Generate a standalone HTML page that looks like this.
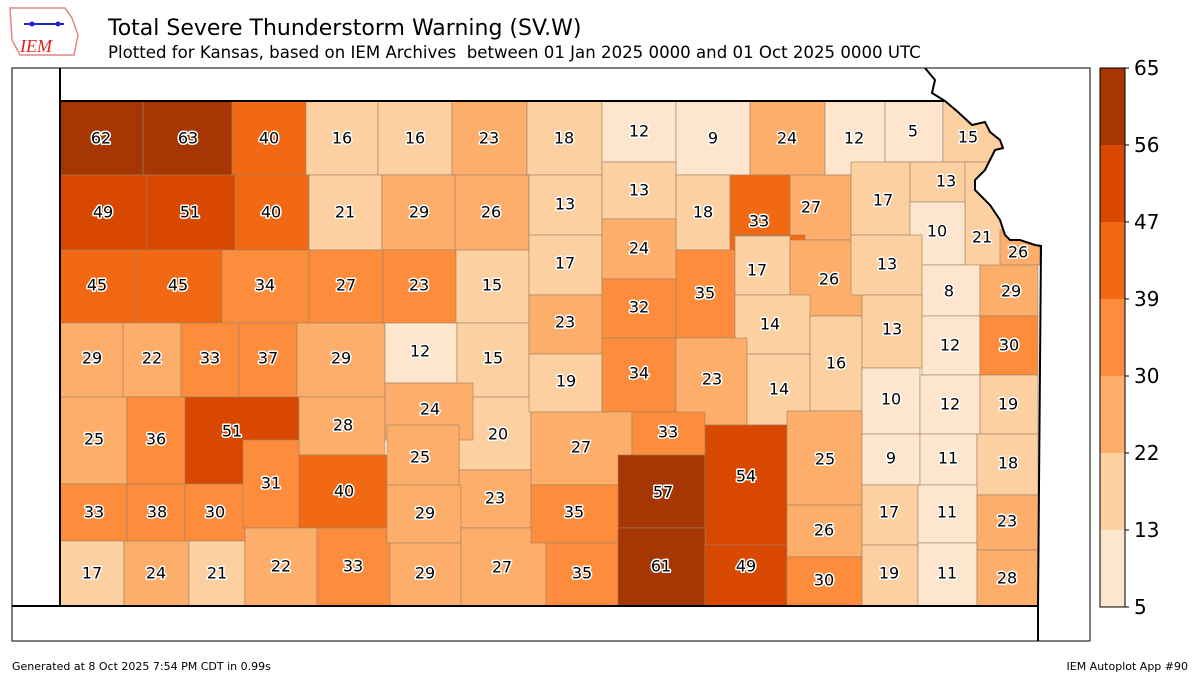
<!DOCTYPE html>
<html><head><meta charset="utf-8"><style>
body{margin:0;background:#fff;width:1200px;height:675px;overflow:hidden;font-family:"DejaVu Sans","Liberation Sans",sans-serif}
svg{font-family:"DejaVu Sans","Liberation Sans",sans-serif}
.a{fill:#fee6ce}.b{fill:#fdd0a2}.c{fill:#fdae6b}.d{fill:#fd8d3c}.e{fill:#f16913}.f{fill:#d94801}.g{fill:#a63603}
#r rect{stroke:#a08060;stroke-width:0.6}
#t text{font-size:16px;text-anchor:middle;dominant-baseline:central;fill:#000;stroke:#fff;stroke-width:3px;paint-order:stroke;stroke-linejoin:round}
</style></head><body>
<svg width="1200" height="675" xmlns="http://www.w3.org/2000/svg">
<rect x="12" y="68" width="1078" height="573" fill="#fff" stroke="#000" stroke-width="1"/>
<g id="r">
<rect class="g" x="60" y="101" width="83" height="74"/><rect class="g" x="143" y="101" width="89" height="74"/>
<rect class="e" x="232" y="101" width="74" height="74"/><rect class="b" x="306" y="101" width="72" height="74"/>
<rect class="b" x="378" y="101" width="74" height="74"/><rect class="c" x="452" y="101" width="75" height="74"/>
<rect class="b" x="527" y="101" width="75" height="74"/><rect class="a" x="602" y="101" width="74" height="61"/>
<rect class="a" x="676" y="101" width="74" height="74"/><rect class="c" x="750" y="101" width="75" height="74"/>
<rect class="a" x="825" y="101" width="60" height="74"/><rect class="a" x="885" y="101" width="58" height="61"/>
<rect class="b" x="943" y="101" width="62" height="61"/>
<rect class="f" x="60" y="175" width="87" height="75"/><rect class="f" x="147" y="175" width="88" height="75"/>
<rect class="e" x="235" y="175" width="74" height="75"/><rect class="b" x="309" y="175" width="73" height="75"/>
<rect class="c" x="382" y="175" width="73" height="75"/><rect class="c" x="455" y="175" width="74" height="75"/>
<rect class="b" x="529" y="175" width="73" height="60"/><rect class="b" x="602" y="162" width="74" height="57"/>
<rect class="b" x="676" y="175" width="54" height="75"/><rect class="c" x="790" y="175" width="61" height="65"/>
<rect class="e" x="730" y="175" width="60" height="60"/><rect class="e" x="730" y="235" width="75" height="30"/>
<rect class="b" x="851" y="162" width="59" height="73"/><rect class="b" x="910" y="162" width="65" height="40"/>
<rect class="b" x="965" y="162" width="40" height="113"/>
<rect class="a" x="910" y="202" width="55" height="63"/>
<rect class="c" x="1000" y="230" width="40" height="35"/>
<rect class="e" x="60" y="250" width="75" height="73"/><rect class="e" x="135" y="250" width="87" height="73"/>
<rect class="d" x="222" y="250" width="87" height="73"/><rect class="d" x="309" y="250" width="74" height="73"/>
<rect class="d" x="383" y="250" width="73" height="73"/><rect class="b" x="456" y="250" width="73" height="73"/>
<rect class="b" x="529" y="235" width="73" height="60"/><rect class="c" x="602" y="219" width="74" height="60"/>
<rect class="d" x="676" y="250" width="59" height="88"/><rect class="b" x="735" y="236" width="55" height="59"/>
<rect class="c" x="790" y="240" width="72" height="76"/><rect class="b" x="851" y="235" width="71" height="60"/>
<rect class="a" x="922" y="265" width="58" height="51"/><rect class="c" x="980" y="265" width="58" height="51"/>
<rect class="c" x="60" y="323" width="63" height="74"/><rect class="c" x="123" y="323" width="58" height="74"/>
<rect class="d" x="181" y="323" width="58" height="74"/><rect class="d" x="239" y="323" width="58" height="74"/>
<rect class="c" x="297" y="323" width="88" height="74"/><rect class="a" x="385" y="323" width="72" height="60"/>
<rect class="b" x="457" y="323" width="72" height="74"/><rect class="c" x="529" y="295" width="73" height="59"/>
<rect class="d" x="602" y="279" width="74" height="59"/><rect class="b" x="735" y="295" width="75" height="59"/>
<rect class="b" x="810" y="316" width="52" height="95"/><rect class="b" x="862" y="295" width="60" height="73"/>
<rect class="a" x="922" y="316" width="58" height="59"/><rect class="d" x="980" y="316" width="58" height="59"/>
<rect class="c" x="60" y="397" width="67" height="87"/><rect class="d" x="127" y="397" width="58" height="87"/>
<rect class="f" x="185" y="397" width="114" height="87"/><rect class="c" x="299" y="397" width="86" height="58"/>
<rect class="b" x="459" y="397" width="72" height="73"/>
<rect class="c" x="385" y="383" width="88" height="57"/>
<rect class="b" x="529" y="354" width="73" height="58"/><rect class="d" x="602" y="338" width="74" height="74"/>
<rect class="c" x="676" y="338" width="71" height="87"/><rect class="b" x="747" y="354" width="63" height="71"/>
<rect class="a" x="862" y="368" width="58" height="66"/><rect class="a" x="920" y="375" width="60" height="59"/>
<rect class="b" x="980" y="375" width="58" height="59"/>
<rect class="d" x="60" y="484" width="67" height="57"/><rect class="d" x="127" y="484" width="58" height="57"/>
<rect class="d" x="185" y="484" width="60" height="57"/><rect class="d" x="243" y="440" width="56" height="88"/>
<rect class="e" x="299" y="455" width="88" height="73"/><rect class="c" x="387" y="425" width="72" height="60"/>
<rect class="c" x="459" y="470" width="72" height="58"/><rect class="c" x="531" y="412" width="101" height="73"/>
<rect class="d" x="632" y="412" width="73" height="43"/><rect class="g" x="618" y="455" width="87" height="73"/>
<rect class="f" x="705" y="425" width="82" height="120"/><rect class="c" x="787" y="411" width="75" height="94"/>
<rect class="a" x="862" y="434" width="58" height="51"/><rect class="a" x="920" y="434" width="57" height="51"/>
<rect class="b" x="977" y="434" width="61" height="61"/>
<rect class="b" x="60" y="541" width="64" height="65"/><rect class="c" x="124" y="541" width="65" height="65"/>
<rect class="b" x="189" y="541" width="56" height="65"/><rect class="c" x="245" y="528" width="72" height="78"/>
<rect class="d" x="317" y="528" width="73" height="78"/><rect class="c" x="387" y="485" width="74" height="58"/>
<rect class="c" x="390" y="543" width="71" height="63"/><rect class="c" x="461" y="528" width="85" height="78"/>
<rect class="d" x="531" y="485" width="87" height="58"/><rect class="d" x="546" y="543" width="72" height="63"/>
<rect class="g" x="618" y="528" width="87" height="78"/><rect class="f" x="705" y="545" width="82" height="61"/>
<rect class="c" x="787" y="505" width="75" height="52"/><rect class="d" x="787" y="557" width="75" height="49"/>
<rect class="b" x="862" y="485" width="56" height="60"/><rect class="b" x="862" y="545" width="56" height="61"/>
<rect class="a" x="918" y="485" width="59" height="58"/><rect class="a" x="918" y="543" width="59" height="63"/>
<rect class="c" x="977" y="495" width="61" height="55"/><rect class="c" x="977" y="550" width="61" height="56"/>
</g>
<polygon points="945,100 1089,100 1089,260 1041,246 1035,245 1020,240 1010,240 1005,235 1000,220 990,205 975,190 975,180 985,170 990,160 995,150 1003,148 1000,140 990,132 985,122 972,125 958,112" fill="#fff"/>
<g fill="none" stroke="#000" stroke-width="2">
<polyline points="60,68 60,606"/><polyline points="12,606 1038,606"/>
<polyline points="60,101 945,101 958,112 972,125 985,122 990,132 1000,140 1003,148 995,150 990,160 985,170 975,180 975,190 990,205 1000,220 1005,235 1010,240 1020,240 1035,245 1041,246 1038,606 1038,641"/>
<polyline points="925,68 935,80 932,93 945,101"/>
</g>
<g id="t">
<text x="101" y="138">62</text><text x="188" y="138">63</text><text x="269" y="138">40</text><text x="342" y="138">16</text><text x="415" y="138">16</text><text x="489" y="138">23</text><text x="564" y="138">18</text><text x="639" y="131">12</text><text x="713" y="138">9</text><text x="787" y="138">24</text><text x="854" y="138">12</text><text x="913" y="131">5</text><text x="968" y="137">15</text>
<text x="103" y="212">49</text><text x="190" y="212">51</text><text x="271" y="212">40</text><text x="345" y="212">21</text><text x="419" y="212">29</text><text x="491" y="212">26</text><text x="565" y="204">13</text><text x="639" y="190">13</text><text x="703" y="212">18</text><text x="759" y="221">33</text><text x="811" y="207">27</text><text x="883" y="200">17</text><text x="946" y="181">13</text><text x="937" y="231">10</text><text x="982" y="237">21</text><text x="1018" y="252">26</text>
<text x="97" y="285">45</text><text x="178" y="285">45</text><text x="265" y="285">34</text><text x="346" y="285">27</text><text x="419" y="285">23</text><text x="492" y="285">15</text><text x="565" y="263">17</text><text x="639" y="248">24</text><text x="705" y="293">35</text><text x="757" y="270">17</text><text x="829" y="279">26</text><text x="887" y="264">13</text><text x="949" y="291">8</text><text x="1011" y="291">29</text>
<text x="92" y="358">29</text><text x="152" y="358">22</text><text x="210" y="358">33</text><text x="268" y="358">37</text><text x="341" y="358">29</text><text x="420" y="351">12</text><text x="493" y="358">15</text><text x="565" y="322">23</text><text x="639" y="307">32</text><text x="770" y="324">14</text><text x="836" y="363">16</text><text x="892" y="329">13</text><text x="950" y="345">12</text><text x="1009" y="345">30</text>
<text x="94" y="439">25</text><text x="156" y="439">36</text><text x="232" y="431">51</text><text x="343" y="425">28</text><text x="430" y="409">24</text><text x="498" y="434">20</text><text x="566" y="381">19</text><text x="639" y="373">34</text><text x="712" y="379">23</text><text x="779" y="389">14</text><text x="891" y="399">10</text><text x="950" y="404">12</text><text x="1008" y="404">19</text>
<text x="94" y="512">33</text><text x="157" y="512">38</text><text x="215" y="512">30</text><text x="271" y="483">31</text><text x="344" y="491">40</text><text x="420" y="457">25</text><text x="495" y="498">23</text><text x="581" y="447">27</text><text x="668" y="432">33</text><text x="663" y="492">57</text><text x="746" y="476">54</text><text x="825" y="459">25</text><text x="891" y="458">9</text><text x="948" y="458">11</text><text x="1008" y="463">18</text>
<text x="92" y="573">17</text><text x="156" y="573">24</text><text x="217" y="573">21</text><text x="281" y="566">22</text><text x="353" y="566">33</text><text x="425" y="513">29</text><text x="425" y="573">29</text><text x="502" y="567">27</text><text x="574" y="512">35</text><text x="582" y="573">35</text><text x="661" y="566">61</text><text x="746" y="566">49</text><text x="824" y="530">26</text><text x="824" y="580">30</text><text x="889" y="512">17</text><text x="889" y="573">19</text><text x="947" y="512">11</text><text x="947" y="573">11</text><text x="1007" y="521">23</text><text x="1007" y="578">28</text>
</g>
<g stroke="none">
<rect class="g" x="1100" y="68" width="25" height="77"/><rect class="f" x="1100" y="145" width="25" height="77"/><rect class="e" x="1100" y="222" width="25" height="77"/><rect class="d" x="1100" y="299" width="25" height="77"/><rect class="c" x="1100" y="376" width="25" height="77"/><rect class="b" x="1100" y="453" width="25" height="77"/><rect class="a" x="1100" y="530" width="25" height="77"/>
</g>
<rect x="1100" y="68" width="25" height="539" fill="none" stroke="#000" stroke-width="1"/>
<g font-size="20" fill="#000" dominant-baseline="central">
<text x="1134" y="68">65</text><text x="1134" y="145">56</text><text x="1134" y="222">47</text><text x="1134" y="299">39</text><text x="1134" y="376">30</text><text x="1134" y="453">22</text><text x="1134" y="530">13</text><text x="1134" y="607">5</text>
</g>
<g stroke="#000" stroke-width="1"><line x1="1125" y1="68" x2="1129" y2="68"/><line x1="1125" y1="145" x2="1129" y2="145"/><line x1="1125" y1="222" x2="1129" y2="222"/><line x1="1125" y1="299" x2="1129" y2="299"/><line x1="1125" y1="376" x2="1129" y2="376"/><line x1="1125" y1="453" x2="1129" y2="453"/><line x1="1125" y1="530" x2="1129" y2="530"/><line x1="1125" y1="607" x2="1129" y2="607"/></g>
<polygon points="10,8 65,8 72,18 78,35 74,55 20,55 12,40" fill="none" stroke="#d88" stroke-width="1.5"/>
<line x1="24" y1="24" x2="64" y2="24" stroke="#22c" stroke-width="2"/>
<circle cx="32" cy="24" r="2.5" fill="#22c"/><circle cx="58" cy="24" r="2.5" fill="#22c"/>
<text x="20" y="52" font-size="18" font-style="italic" fill="#d22" font-family="Liberation Serif,serif">IEM</text>
<text x="108" y="35" font-size="22">Total Severe Thunderstorm Warning (SV.W)</text>
<text x="108" y="58" font-size="16.6">Plotted for Kansas, based on IEM Archives &#160;between 01 Jan 2025 0000 and 01 Oct 2025 0000 UTC</text>
<text x="12" y="670" font-size="11">Generated at 8 Oct 2025 7:54 PM CDT in 0.99s</text>
<text x="1188" y="670" font-size="11" text-anchor="end">IEM Autoplot App #90</text>
</svg>
</body></html>
